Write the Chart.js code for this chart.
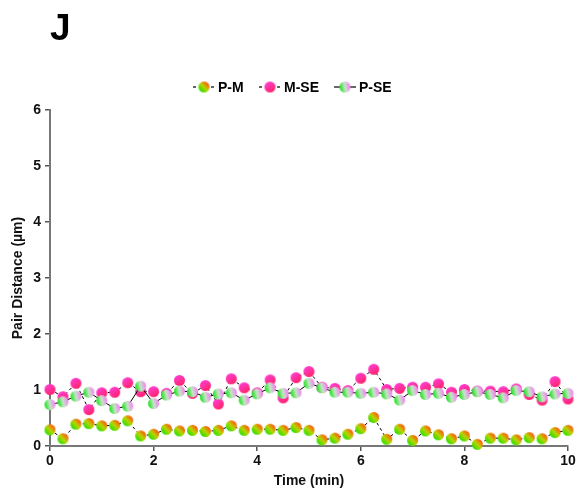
<!DOCTYPE html>
<html>
<head>
<meta charset="utf-8">
<script src="https://cdn.jsdelivr.net/npm/chart.js@4"></script>
<style>
  html, body { margin: 0; padding: 0; background: #fff; }
  #wrap { width: 579px; height: 494px; position: relative; }
</style>
</head>
<body>
<div id="wrap"><canvas id="c" width="579" height="494"></canvas></div>
<script>
// Sampling times (min), one frame every 15 s
const times = [
  0, 0.25, 0.5, 0.75, 1, 1.25, 1.5, 1.75, 2, 2.25, 2.5, 2.75, 3, 3.25, 3.5, 3.75,
  4, 4.25, 4.5, 4.75, 5, 5.25, 5.5, 5.75, 6, 6.25, 6.5, 6.75, 7, 7.25, 7.5, 7.75,
  8, 8.25, 8.5, 8.75, 9, 9.25, 9.5, 9.75, 10
];

// Pair distances (µm)
const pmDist = [
  0.29, 0.13, 0.39, 0.40, 0.36, 0.37, 0.45, 0.18, 0.21, 0.30, 0.27, 0.28, 0.26, 0.28, 0.36, 0.28,
  0.30, 0.30, 0.28, 0.33, 0.28, 0.11, 0.14, 0.21, 0.31, 0.51, 0.12, 0.30, 0.10, 0.27, 0.20, 0.13,
  0.18, 0.03, 0.14, 0.14, 0.11, 0.15, 0.13, 0.24, 0.28
];
const mseDist = [
  1.01, 0.88, 1.12, 0.65, 0.95, 0.96, 1.13, 0.97, 0.97, 0.94, 1.17, 0.94, 1.08, 0.75, 1.20, 1.04,
  0.95, 1.18, 0.86, 1.22, 1.33, 1.05, 1.03, 0.99, 1.21, 1.37, 1.01, 1.03, 1.05, 1.05, 1.11, 0.96,
  1.01, 0.98, 0.98, 0.97, 1.02, 0.92, 0.82, 1.15, 0.84
];
const pseDist = [
  0.74, 0.79, 0.89, 0.96, 0.81, 0.67, 0.71, 1.07, 0.76, 0.91, 0.98, 0.97, 0.87, 0.93, 0.95, 0.82,
  0.93, 1.04, 0.94, 0.95, 1.12, 1.04, 0.96, 0.96, 0.94, 0.96, 0.93, 0.82, 0.99, 0.92, 0.94, 0.87,
  0.92, 0.97, 0.92, 0.86, 0.99, 0.97, 0.88, 0.93, 0.94
];

const seriesLabels = ['P-M', 'M-SE', 'P-SE'];
const yTicks = [0, 1, 2, 3, 4, 5, 6];
const xTicks = [0, 2, 4, 6, 8, 10];

const FONT = '"Liberation Sans", Arial, sans-serif';

// Two-tone gradient marker drawn once into a small canvas.
// (x0,y0)->(x1,y1) are fractions of the marker box giving the gradient direction.
function gradientDot(stops, x0, y0, x1, y1, r) {
  const size = r * 2 + 2;
  const cv = document.createElement('canvas');
  cv.width = size; cv.height = size;
  const g = cv.getContext('2d');
  const grad = g.createLinearGradient(x0 * size, y0 * size, x1 * size, y1 * size);
  stops.forEach(s => grad.addColorStop(s[0], s[1]));
  g.fillStyle = grad;
  g.beginPath();
  g.arc(size / 2, size / 2, r, 0, Math.PI * 2);
  g.fill();
  return cv;
}

const R = 5.5;
const dotPM = gradientDot([[0.15, '#2ee000'], [0.5, '#b8d400'], [0.85, '#ff5a08']], 0.1, 0.9, 0.9, 0.1, R);
const dotMSE = gradientDot([[0.1, '#ff3cd2'], [0.9, '#ff2468']], 0.2, 0.05, 0.8, 0.95, R);
const dotPSE = gradientDot([[0.12, '#2ee42e'], [0.5, '#c8e4c8'], [0.88, '#f08cf0']], 0.05, 0.6, 0.95, 0.4, R);

const dots = [dotPM, dotMSE, dotPSE];
const dashes = [[3, 3], [3, 3], []];

function toXY(arr) { return times.map((t, i) => ({ x: t, y: arr[i] })); }

// Panel letter and line+marker legend
const decorations = {
  id: 'decorations',
  afterDraw(chart) {
    const ctx = chart.ctx;
    ctx.save();
    ctx.fillStyle = '#000';
    ctx.font = 'bold 37px ' + FONT;
    ctx.textBaseline = 'alphabetic';
    ctx.textAlign = 'left';
    ctx.fillText('J', 50, 40);

    const items = [
      { x: 193, label: seriesLabels[0] },
      { x: 259, label: seriesLabels[1] },
      { x: 334, label: seriesLabels[2] }
    ];
    const ly = 87;
    ctx.font = 'bold 14px ' + FONT;
    ctx.textBaseline = 'middle';
    items.forEach((it, i) => {
      ctx.strokeStyle = '#000';
      ctx.lineWidth = 1.2;
      ctx.setLineDash(dashes[i]);
      ctx.beginPath();
      ctx.moveTo(it.x, ly);
      ctx.lineTo(it.x + 22, ly);
      ctx.stroke();
      ctx.setLineDash([]);
      const d = dots[i];
      ctx.drawImage(d, it.x + 11 - d.width / 2, ly - d.height / 2);
      ctx.fillStyle = '#000';
      ctx.fillText(it.label, it.x + 25, ly + 1);
    });
    ctx.restore();
  }
};

const datasets = [pmDist, mseDist, pseDist].map((arr, i) => ({
  label: seriesLabels[i],
  data: toXY(arr),
  borderColor: '#000',
  borderWidth: 1,
  borderDash: dashes[i],
  pointStyle: dots[i],
  pointRadius: 5,
  pointHoverRadius: 5,
  fill: false,
  tension: 0,
  clip: false,
  order: [1, 2, 0][i]
}));

new Chart(document.getElementById('c'), {
  type: 'line',
  data: { datasets },
  plugins: [decorations],
  options: {
    responsive: false,
    animation: false,
    events: [],
    layout: { padding: { top: 110, right: 11, left: 0, bottom: 0 } },
    plugins: {
      legend: { display: false },
      tooltip: { enabled: false },
      title: { display: false }
    },
    scales: {
      x: {
        type: 'linear',
        min: 0, max: 10,
        afterFit(scale) { scale.height = 48; },
        afterBuildTicks(scale) { scale.ticks = xTicks.map(v => ({ value: v })); },
        border: { color: '#777', width: 2 },
        grid: { drawOnChartArea: false, tickLength: 5, color: '#555', lineWidth: 1.5 },
        ticks: {
          color: '#111',
          padding: 2,
          font: { family: FONT, size: 14, weight: 'bold' }
        },
        title: {
          display: true,
          text: 'Time (min)',
          color: '#111',
          padding: { top: 0, bottom: 4 },
          font: { family: FONT, size: 14, weight: 'bold' }
        }
      },
      y: {
        type: 'linear',
        min: 0, max: 6,
        afterFit(scale) { scale.width = 50; },
        afterBuildTicks(scale) { scale.ticks = yTicks.map(v => ({ value: v })); },
        border: { color: '#777', width: 2 },
        grid: { drawOnChartArea: false, tickLength: 5, color: '#555', lineWidth: 1.5 },
        ticks: {
          color: '#111',
          padding: 4,
          font: { family: FONT, size: 14, weight: 'bold' }
        },
        title: {
          display: true,
          text: 'Pair Distance (µm)',
          color: '#111',
          padding: { top: 10, bottom: 0 },
          font: { family: FONT, size: 14, weight: 'bold' }
        }
      }
    }
  }
});
</script>
</body>
</html>
